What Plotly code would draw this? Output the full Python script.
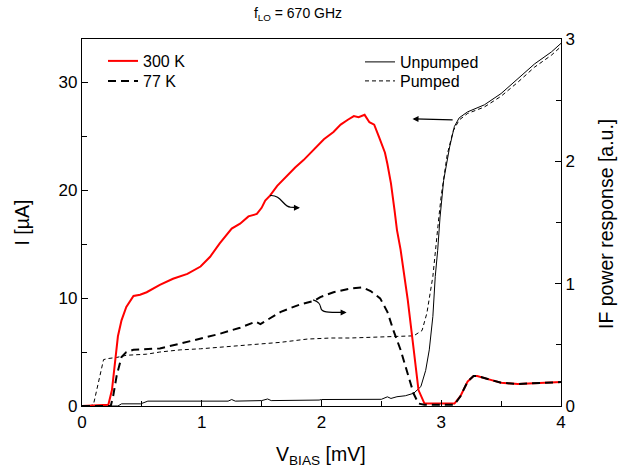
import plotly.graph_objects as go

# I-V curves (left axis, uA)
v_unpumped = [0.0, 0.30, 0.33, 0.49, 0.55, 1.0, 1.22, 1.25, 1.28, 1.5, 1.55, 1.58, 1.75, 1.82, 1.98,
              2.0, 2.5, 2.55, 2.58, 2.63, 2.70, 2.77, 2.83, 2.87, 2.90, 2.93, 2.95, 2.97, 2.99,
              3.02, 3.07, 3.11, 3.15, 3.22, 3.36, 3.50, 3.64, 3.78, 3.92, 4.0]
i_unpumped = [0.0, 0.0, 0.2, 0.2, 0.45, 0.45, 0.45, 0.6, 0.45, 0.5, 0.65, 0.5, 0.5, 0.55, 0.55,
              0.6, 0.62, 0.85, 0.7, 0.86, 0.95, 1.18, 1.8, 3.3, 5.2, 8.3, 12.0, 14.4, 17.5,
              20.9, 24.0, 25.9, 26.7, 27.25, 27.9, 28.95, 30.3, 31.7, 32.8, 33.6]

v_pumped = [0.0, 0.05, 0.095, 0.137, 0.18, 0.22, 0.29, 0.37, 0.54, 0.65, 0.82, 0.99, 1.24, 1.49,
            1.66, 1.88, 2.08, 2.24, 2.52, 2.77, 2.84, 2.88, 2.93, 2.95, 2.98, 3.0, 3.05, 3.1,
            3.15, 3.22, 3.36, 3.50, 3.64, 3.78, 3.92, 4.0]
i_pumped = [0.0, 0.0, 0.1, 2.1, 4.3, 4.4, 4.5, 4.7, 4.8, 5.0, 5.2, 5.3, 5.5, 5.7,
            5.9, 6.2, 6.3, 6.3, 6.4, 6.5, 7.0, 8.6, 12.0, 14.4, 17.5, 19.5, 23.3, 25.5,
            26.5, 27.1, 27.7, 28.7, 30.0, 31.4, 32.5, 33.3]

# IF power response (right axis, a.u.)
v_300k = [0.0, 0.22, 0.25, 0.276, 0.30, 0.33, 0.37, 0.43, 0.485, 0.54, 0.65, 0.76, 0.88, 0.99,
          1.07, 1.15, 1.25, 1.32, 1.39, 1.46, 1.50, 1.53, 1.57, 1.63, 1.71, 1.78, 1.85, 1.94,
          2.02, 2.10, 2.16, 2.22, 2.27, 2.31, 2.36, 2.40, 2.44, 2.48, 2.53, 2.55, 2.58, 2.61,
          2.63, 2.66, 2.72, 2.77, 2.81, 2.86, 3.11, 3.16, 3.22, 3.27, 3.30, 3.39, 3.50, 3.64,
          3.78, 4.0]
p_300k = [0.0, 0.01, 0.13, 0.38, 0.57, 0.70, 0.81, 0.90, 0.91, 0.93, 0.99, 1.04, 1.08, 1.14,
          1.22, 1.33, 1.45, 1.49, 1.55, 1.57, 1.62, 1.68, 1.72, 1.80, 1.88, 1.95, 2.01, 2.10,
          2.18, 2.24, 2.30, 2.34, 2.37, 2.36, 2.38, 2.32, 2.30, 2.20, 2.07, 1.98, 1.82, 1.60,
          1.44, 1.28, 0.87, 0.46, 0.13, 0.02, 0.02, 0.08, 0.20, 0.245, 0.245, 0.22, 0.19, 0.18,
          0.185, 0.196]

v_77k = [0.0, 0.24, 0.26, 0.29, 0.33, 0.37, 0.43, 0.65, 0.82, 0.99, 1.15, 1.32, 1.45, 1.49,
         1.66, 1.82, 1.94, 1.99, 2.10, 2.24, 2.34, 2.41, 2.49, 2.55, 2.60, 2.66, 2.72, 2.77,
         2.81, 2.86, 3.11, 3.16, 3.22, 3.27, 3.30, 3.39, 3.50, 3.64, 3.78, 4.0]
p_77k = [0.0, 0.0, 0.08, 0.25, 0.40, 0.44, 0.46, 0.47, 0.51, 0.55, 0.59, 0.64, 0.69, 0.67,
         0.77, 0.83, 0.86, 0.89, 0.93, 0.96, 0.97, 0.94, 0.88, 0.77, 0.62, 0.46, 0.27, 0.10,
         0.02, 0.01, 0.01, 0.08, 0.20, 0.245, 0.245, 0.22, 0.19, 0.18, 0.185, 0.196]

FONT = "Arial, Liberation Sans, sans-serif"
L, R, T, B = 82, 561, 39, 406  # plot area in pixels
PW, PH = R - L, B - T


def px_x(p):
    return (p - L) / PW


def px_y(p):
    return (B - p) / PH


fig = go.Figure()
fig.add_trace(go.Scatter(x=v_300k, y=p_300k, name="300 K", yaxis="y2", mode="lines",
                         line=dict(color="#ff0000", width=2), legend="legend"))
fig.add_trace(go.Scatter(x=v_77k, y=p_77k, name="77 K", yaxis="y2", mode="lines",
                         line=dict(color="black", width=2, dash="8px,5px"), legend="legend3"))
fig.add_trace(go.Scatter(x=v_unpumped, y=i_unpumped, name="Unpumped", mode="lines",
                         line=dict(color="black", width=1), legend="legend2"))
fig.add_trace(go.Scatter(x=v_pumped, y=i_pumped, name="Pumped", mode="lines",
                         line=dict(color="black", width=1, dash="4px,3px"), legend="legend4"))

# curved arrows pointing to the right axis
fig.add_shape(type="path", xref="x", yref="y2",
              path="M 1.57,1.72 C 1.66,1.73 1.68,1.63 1.74,1.625 L 1.80,1.622",
              line=dict(color="black", width=1.2))
fig.add_annotation(x=1.82, y=1.62, xref="x", yref="y2", ax=-9, ay=0, text=" ",
                   showarrow=True, arrowhead=2, arrowsize=1, arrowwidth=1.2, arrowcolor="black")
fig.add_shape(type="path", xref="x", yref="y2",
              path="M 1.93,0.867 C 1.99,0.85 1.99,0.82 1.995,0.80 C 2.0,0.765 2.05,0.765 2.18,0.765",
              line=dict(color="black", width=1.2))
fig.add_annotation(x=2.21, y=0.765, xref="x", yref="y2", ax=-9, ay=0, text=" ",
                   showarrow=True, arrowhead=2, arrowsize=1, arrowwidth=1.2, arrowcolor="black")
# arrow pointing to the left axis
fig.add_annotation(x=2.76, y=26.6, xref="x", yref="y", ax=3.12, ay=26.5, axref="x", ayref="y",
                   text=" ", showarrow=True, arrowhead=2, arrowsize=1, arrowwidth=1.2,
                   arrowcolor="black")

# axis titles placed as annotations
title_common = dict(xref="paper", yref="paper", xanchor="center", yanchor="middle",
                    showarrow=False, font=dict(size=19.5))
fig.add_annotation(x=px_x(321), y=px_y(455), text="V<sub>BIAS</sub> [mV]", **title_common)
fig.add_annotation(x=px_x(21), y=0.5, textangle=-90, text="I [µA]", **title_common)
fig.add_annotation(x=px_x(606), y=px_y(224), textangle=-90,
                   text="IF power response [a.u.]", **title_common)

axis_common = dict(showgrid=False, zeroline=False, showline=True, linecolor="black",
                   linewidth=1.3, ticks="inside", ticklen=6, tickcolor="black",
                   tickfont=dict(size=17, color="black"), automargin=False)

leg_common = dict(xanchor="left", yanchor="middle", bgcolor="rgba(0,0,0,0)",
                  font=dict(size=16), borderwidth=0)

fig.update_layout(
    width=640, height=472,
    showlegend=True,
    margin=dict(l=L, r=640 - R, t=T, b=472 - B),
    paper_bgcolor="white", plot_bgcolor="white",
    font=dict(family=FONT, color="black"),
    title=dict(text="f<sub>LO</sub> = 670 GHz", x=298 / 640, xref="container", xanchor="center",
               y=1 - 13 / 472, yanchor="middle", font=dict(size=14)),
    xaxis=dict(range=[0, 4], dtick=1, mirror=True,
               minor=dict(dtick=0.5, ticks="inside", ticklen=5, tickcolor="black"),
               **axis_common),
    xaxis2=dict(range=[0, 4], dtick=1, overlaying="x", side="top", showticklabels=False,
                **axis_common),
    yaxis=dict(range=[0, 34], dtick=10,
               minor=dict(dtick=5, ticks="inside", ticklen=5, tickcolor="black"),
               **axis_common),
    yaxis2=dict(range=[0, 3], dtick=1, overlaying="y", side="right",
                minor=dict(dtick=0.5, ticks="inside", ticklen=5, tickcolor="black"),
                **axis_common),
    legend=dict(x=px_x(103), y=px_y(61), **leg_common),
    legend3=dict(x=px_x(103), y=px_y(81), **leg_common),
    legend2=dict(x=px_x(360), y=px_y(62), **leg_common),
    legend4=dict(x=px_x(360), y=px_y(81), **leg_common),
)

fig.write_html("out.html", config={"displayModeBar": False},
               post_script="document.body.style.margin='0px';")
